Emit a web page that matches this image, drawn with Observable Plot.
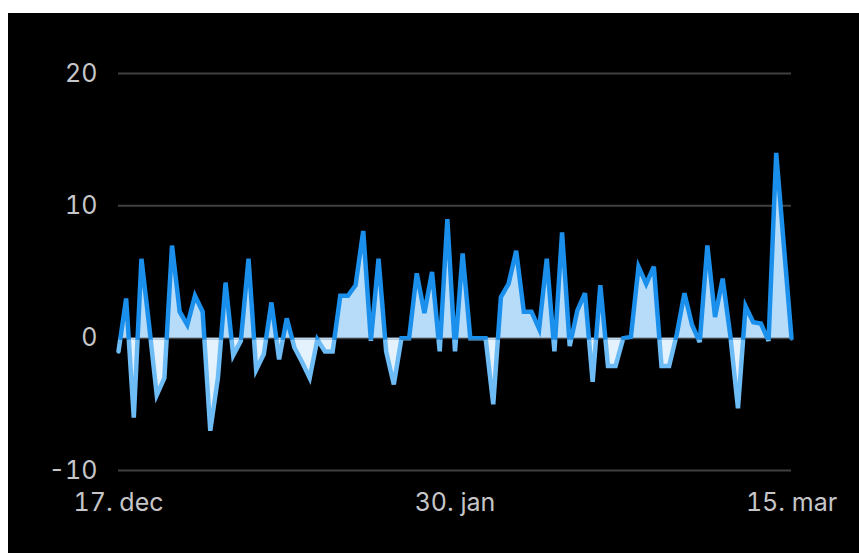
<!DOCTYPE html>
<html><head><meta charset="utf-8">
<script src="https://cdn.jsdelivr.net/npm/d3@7"></script>
<script src="https://cdn.jsdelivr.net/npm/@observablehq/plot@0.6"></script>
<style>
html,body{margin:0;padding:0;background:#fff;}
#frame{position:absolute;left:8px;top:13px;width:851px;height:540px;background:#000;overflow:hidden;}
</style></head><body><div id="frame"></div>
<script>
// Daily values, 17 Dec 2022 .. 15 Mar 2023
const startDate = "2022-12-17";
const values = [
  -1, 3, -6, 6, 1, -4.3, -3, 7, 2, 1,
  3.2, 2, -7, -3, 4.2, -1.3, -0.2, 6, -2.4, -1.2,
  2.7, -1.6, 1.5, -0.7, -1.8, -3, -0.1, -1, -1, 3.2,
  3.2, 4, 8.1, -0.2, 6, -1, -3.5, 0, 0, 4.9,
  1.9, 5, -1, 9, -1, 6.4, 0, 0, 0, -5,
  3.1, 4.1, 6.6, 2, 2, 0.7, 6, -1, 8, -0.6,
  2.1, 3.4, -3.3, 4, -2.1, -2.1, 0, 0.1, 5.4, 4.1,
  5.4, -2.1, -2.1, 0.3, 3.4, 1, -0.3, 7, 1.6, 4.5,
  0.2, -5.3, 2.4, 1.2, 1.1, -0.2, 14, 7, 0
];
const yTicks = [-10, 0, 10, 20];
const xTickDates = ["2022-12-17", "2023-01-30", "2023-03-15"];
const monthNames = ["jan","feb","mar","apr","maj","jun","jul","aug","sep","okt","nov","dec"];

const colors = {
  posLine: "#1b8fec", negLine: "#6dbcf6",
  posFill: "#b6dcfa", negFill: "#e4f2fd",
  grid: "#414143", text: "#c6c6c8"
};

const t0 = Date.parse(startDate + "T00:00:00Z");
const data = values.map((v, i) => ({date: new Date(t0 + i * 864e5), value: v}));
const xTicks = xTickDates.map(s => new Date(s + "T00:00:00Z"));
const fmt = d => `${d.getUTCDate()}. ${monthNames[d.getUTCMonth()]}`;

const W = 851, H = 540;
const chart = Plot.plot({
  width: W, height: H,
  marginLeft: 110, marginRight: 68, marginTop: 60, marginBottom: 83,
  style: {background: "black", color: colors.text, fontFamily: "Inter, 'Noto Sans', sans-serif", fontSize: "25px"},
  x: {type: "utc", domain: [data[0].date, data[data.length - 1].date]},
  y: {domain: [-10, 20]},
  marks: [
    Plot.ruleY(yTicks, {stroke: colors.grid, strokeWidth: 2}),
    Plot.areaY(data, {x: "date", y: "value", fill: colors.posFill}),
    Plot.areaY(data, {x: "date", y: "value", fill: colors.negFill}),
    Plot.lineY(data, {x: "date", y: "value", stroke: colors.posLine, strokeWidth: 4.5, strokeLinejoin: "miter", strokeMiterlimit: 4}),
    Plot.lineY(data, {x: "date", y: "value", stroke: colors.negLine, strokeWidth: 4.5, strokeLinejoin: "miter", strokeMiterlimit: 4}),
    Plot.axisY({ticks: yTicks, tickSize: 0, tickPadding: 21, label: null, tickFormat: d => String(d)}),
    Plot.axisX({ticks: xTicks, tickSize: 0, tickPadding: 23, label: null, tickFormat: fmt})
  ]
});

// split colours above / below zero with clip paths
const y0 = chart.scale("y").apply(0);
const ns = "http://www.w3.org/2000/svg";
const defs = document.createElementNS(ns, "defs");
function clip(id, y, h) {
  const cp = document.createElementNS(ns, "clipPath");
  cp.setAttribute("id", id);
  const r = document.createElementNS(ns, "rect");
  r.setAttribute("x", 0); r.setAttribute("y", y);
  r.setAttribute("width", W); r.setAttribute("height", h);
  cp.appendChild(r); defs.appendChild(cp);
}
clip("clipAbove", 0, y0 + 1.5);
clip("clipBelow", y0 + 1.5, H - y0);
chart.insertBefore(defs, chart.firstChild);
const areas = chart.querySelectorAll('g[aria-label="area"]');
const lines = chart.querySelectorAll('g[aria-label="line"]');
if (areas.length >= 2) { areas[0].setAttribute("clip-path", "url(#clipAbove)"); areas[1].setAttribute("clip-path", "url(#clipBelow)"); }
if (lines.length >= 2) { lines[0].setAttribute("clip-path", "url(#clipAbove)"); lines[1].setAttribute("clip-path", "url(#clipBelow)"); }

document.getElementById("frame").appendChild(chart);
</script>
</body></html>
